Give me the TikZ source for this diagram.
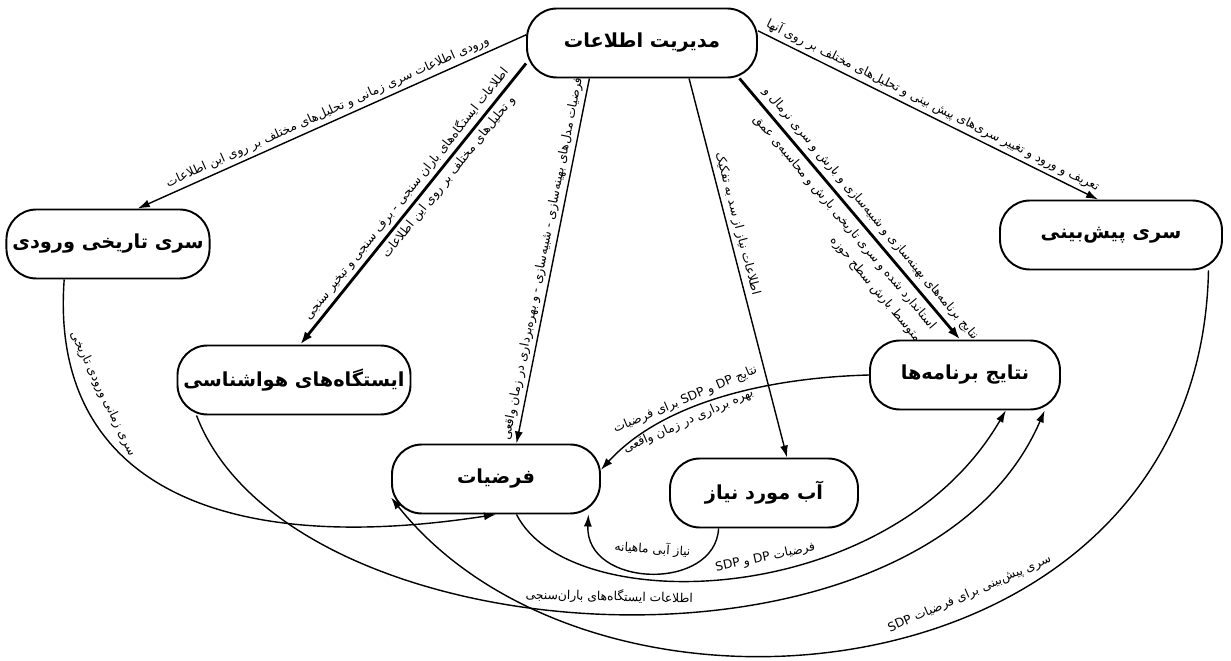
\documentclass[tikz,border=0pt]{standalone}
\usepackage{fontspec}
\usetikzlibrary{arrows.meta}
\newfontfamily\farsi[Script=Arabic]{DejaVu Sans}
\TeXXeTstate=1
\newcommand{\fa}[1]{\beginR#1\endR}

\begin{document}
\begin{tikzpicture}[x=0.2mm, y=-0.2mm]
    \def\boxfont{\farsi\bfseries\fontsize{11}{13}\selectfont}
    \def\edgefont{\farsi\fontsize{7}{11}\selectfont}
    \tikzstyle{box}=[rectangle, rounded corners=0.6cm, draw, line width=1.1pt, minimum height=1.38cm, font=\boxfont]
    \tikzstyle{arrow}=[-{Latex[length=2.4mm, width=1.6mm]}, thick]
    \tikzstyle{heavy}=[-{Latex[length=2.6mm, width=1.8mm]}, line width=1.6pt]
    \tikzstyle{edgetext}=[sloped, font=\edgefont, inner sep=2pt]

    \useasboundingbox (0,0) rectangle (1231,661);

    % nodes
    \node (info) [box, minimum width=4.6cm] at (642,43) {\fa{مدیریت اطلاعات}};
    \path (info)+(-534,201) node (hist) [box, minimum width=3.82cm] {\fa{سری تاریخی ورودی}};
    \path (info)+(-348,337) node (stations) [box, minimum width=4.66cm] {\fa{ایستگاه‌های هواشناسی}};
    \path (info)+(-146,436) node (assump) [box, minimum width=4.16cm] {\fa{فرضیات}};
    \path (info)+(122,450) node (demand) [box, minimum width=3.76cm] {\fa{آب مورد نیاز}};
    \path (info)+(323,332) node (results) [box, minimum width=3.8cm] {\fa{نتایج برنامه‌ها}};
    \path (info)+(469,192) node (fcst) [box, minimum width=4.44cm] {\fa{سری پیش‌بینی}};

    % arrows from info
    \draw[arrow] (info.176) -- node[edgetext, above] {\fa{ورودی اطلاعات سری زمانی و تحلیل‌های مختلف بر روی این اطلاعات}} (hist.50);
    \draw[heavy] (info.190) -- node[edgetext, above, pos=0.49] {\fa{اطلاعات ایستگاه‌های باران سنجی - برف سنجی و تبخیر سنجی}}
        node[edgetext, below, pos=0.38] {\fa{و تحلیل‌های مختلف بر روی این اطلاعات}} (stations.80);
    \draw[arrow] (info.214) -- node[edgetext, above] {\fa{فرضیات مدل‌های بهینه‌سازی - شبیه‌سازی - و بهره‌برداری در زمان واقعی}} (assump.60);
    \draw[arrow] (info.323) -- node[edgetext, above, pos=0.39] {\fa{اطلاعات نیاز از سد به تفکیک}} (demand.57);
    \draw[heavy] (info.340) -- node[edgetext, above=1pt, pos=0.55] {\fa{نتایج برنامه‌های بهینه‌سازی و شبیه‌سازی و بارش و سری نرمال و}}
        node[edgetext, below=1pt, pos=0.52, align=right] {\fa{استاندارد شده و سری تاریخی بارش و محاسبه‌ی عمق}\\\fa{متوسط بارش سطح حوزه}} (results.98);
    \draw[arrow] (info.6) -- node[edgetext, above] {\fa{تعریف و ورود و تغییر سری‌های پیش بینی و تحلیل‌های مختلف بر روی آنها}} (fcst.110);

    % curved arrows
    \draw[arrow] (hist.219) .. controls (50,470) and (200,560) .. (assump.south)
        node[edgetext, above=6pt, pos=0.25] {\fa{سری زمانی ورودی تاریخی}};
    \draw[arrow] (results.west) .. controls (760,378) and (660,405) .. (assump.5)
        node[edgetext, above, pos=0.6] {\fa{نتایج DP و SDP برای فرضیات}}
        node[edgetext, below, pos=0.62] {\fa{بهره برداری در زمان واقعی}};
    \draw[arrow] (demand.218) .. controls (715,592) and (585,588) .. (assump.339)
        node[edgetext, above=7pt, pos=0.5] {\fa{نیاز آبی ماهیانه}};
    \draw[arrow] (assump.300) .. controls (570,620) and (890,610) .. (results.319)
        node[edgetext, above=2pt, pos=0.55] {\fa{فرضیات DP و SDP}};
    \draw[arrow] (stations.200) .. controls (290,660) and (920,700) .. (results.336)
        node[edgetext, above=3pt, pos=0.5] {\fa{اطلاعات ایستگاه‌های باران‌سنجی}};
    \draw[arrow] (fcst.340) .. controls (1200,700) and (600,760) .. (assump.190)
        node[edgetext, above=5pt, pos=0.4] {\fa{سری پیش‌بینی برای فرضیات SDP}};
\end{tikzpicture}
\end{document}
